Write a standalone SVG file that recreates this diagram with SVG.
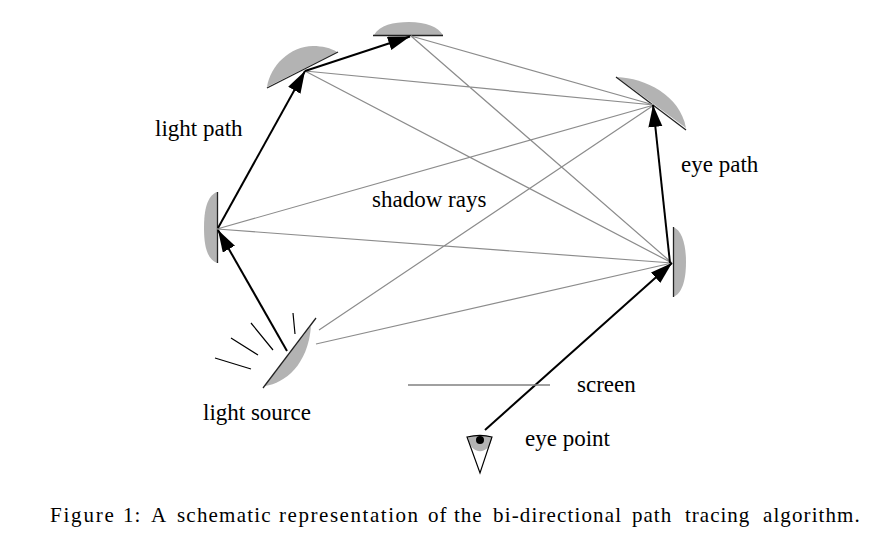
<svg xmlns="http://www.w3.org/2000/svg" width="894" height="541" viewBox="0 0 894 541">
<style>
.m{fill:#b3b3b3;stroke:none}
.e{stroke:#222;stroke-width:1.3;fill:none}
.r{stroke:#8c8c8c;stroke-width:1.2;fill:none}
.p{stroke:#000;stroke-width:2;fill:none;marker-end:url(#a)}
.t{stroke:#000;stroke-width:1.2;fill:none}
text{font-family:"Liberation Serif","Times New Roman",serif;font-size:23px;fill:#000}
.c{font-size:21px;letter-spacing:1px}
</style>
<defs><marker id="a" markerUnits="userSpaceOnUse" markerWidth="24" markerHeight="16" refX="22" refY="7" orient="auto"><path d="M0 0L22 7L0 14Z" fill="#000"/></marker></defs>
<rect width="894" height="541" fill="#fff"/>
<g id="mirror-source"><path class="m" d="M265 386C285 383 308 365 311 326Z"/><path class="e" d="M263 388L316 318"/>
<path class="t" d="M215 358L251 369M231 338L258 355M251 323L273 350M293 313L295 334"/></g>
<g id="mirror-left"><path class="m" d="M217 192C207 196 204 210 204 228C204 246 207 259 217 263Z"/><path class="e" d="M217.5 192V263"/></g>
<g id="mirror-top-left"><path class="m" d="M267 87C270 66 290 46 313 46C322 46 331 48 337 52Z"/><path class="e" d="M267 88L338 52"/></g>
<g id="mirror-top"><path class="m" d="M374 35C380 25 393 22 409 22C426 22 438 27 443 35Z"/><path class="e" d="M373 35.5H443"/></g>
<g id="mirror-right-upper"><path class="m" d="M617 77C645 78 680 95 686 128Z"/><path class="e" d="M616 77L686 130"/></g>
<g id="mirror-right-lower"><path class="m" d="M673 227C682 230 686 245 686 262C686 280 682 294 673 297Z"/><path class="e" d="M673.5 227V297"/></g>
<g id="connectors">
<path class="r" d="M305 71L654 105M305 71L672 263M411 36L654 105M411 36L672 263M217 229L654 105M217 229L672 263M319 330L654 105M316 344L672 263"/>
<path class="p" d="M287 351L218 230"/>
<path class="p" d="M218 228L305 71"/>
<path class="p" d="M305 71L410 36.5"/>
<path class="p" d="M670 263L653 105"/>
<path class="p" d="M485 430L672 263"/>
</g>
<g id="eye"><path d="M468 437C470 456 490 456 492 437C484 435 476 435 468 437Z" fill="#b3b3b3"/><path class="t" d="M467 437C475 435 485 435 492 437L480 473Z"/><circle cx="480" cy="440" r="4" fill="#000"/></g>
<g id="screen"><path d="M408 385H550" stroke="#808080" stroke-width="1.4"/></g>
<g id="labels">
<text x="155" y="136">light path</text>
<text x="681" y="172">eye path</text>
<text x="372" y="207">shadow rays</text>
<text x="203" y="420">light source</text>
<text x="577" y="392">screen</text>
<text x="525" y="446">eye point</text>
<text class="c" y="522"><tspan x="50" letter-spacing="1.8">Figure</tspan> <tspan x="123">1:</tspan> <tspan x="151">A</tspan> <tspan x="177" letter-spacing="1.2">schematic</tspan> <tspan x="279" letter-spacing="1.55">representation</tspan> <tspan x="428">of</tspan> <tspan x="454">the</tspan> <tspan x="493" letter-spacing="1.15">bi-directional</tspan> <tspan x="632">path</tspan> <tspan x="685">tracing</tspan> <tspan x="763" letter-spacing="1.1">algorithm.</tspan></text>
</g>
</svg>
